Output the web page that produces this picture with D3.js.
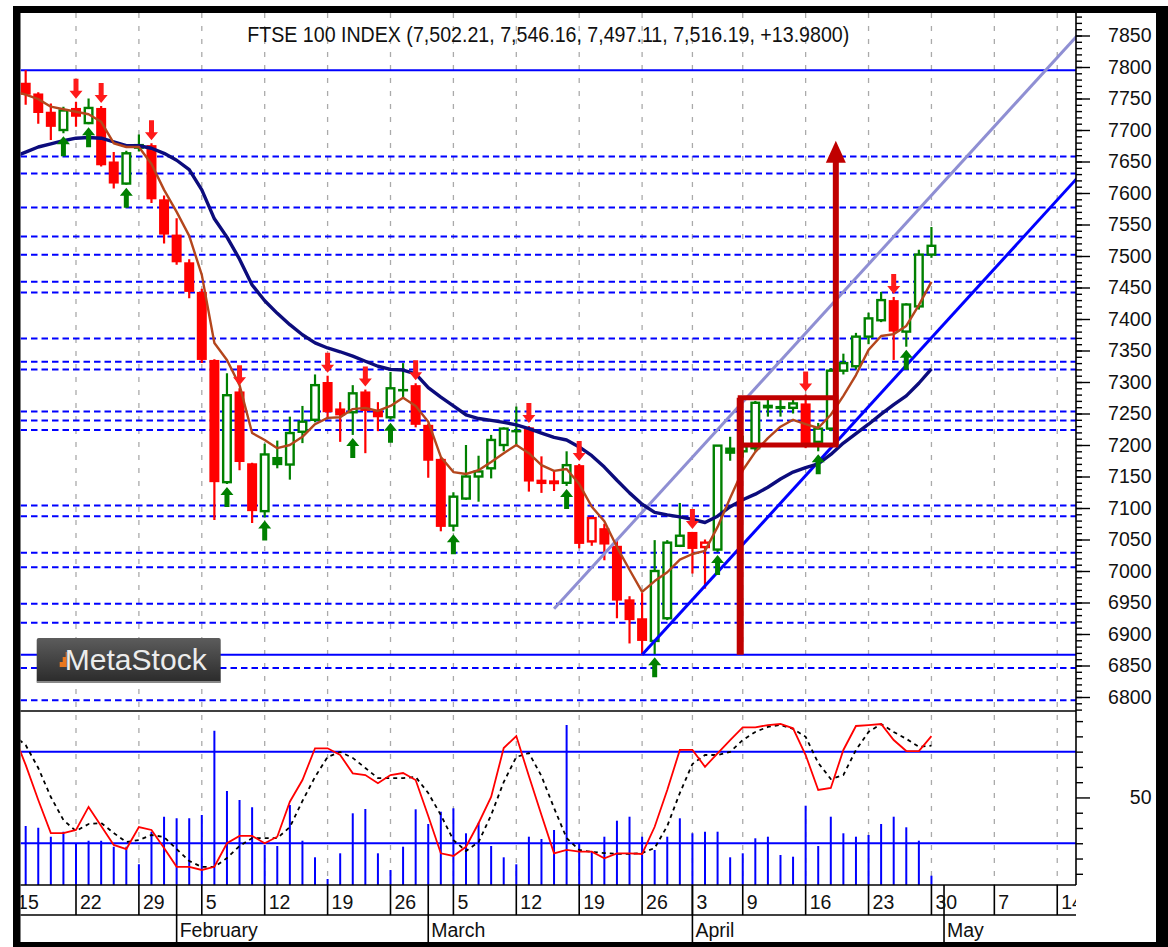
<!DOCTYPE html>
<html><head><meta charset="utf-8">
<script src="https://cdn.jsdelivr.net/npm/d3@7"></script>
<style>body{margin:0;background:#fff}svg{display:block}</style>
</head><body>
<svg id="c" width="1168" height="947"></svg>
<script>
// ---------------- DATA ----------------
const dates = ["2018-01-15","2018-01-16","2018-01-17","2018-01-18","2018-01-19","2018-01-22","2018-01-23","2018-01-24","2018-01-25","2018-01-26","2018-01-29","2018-01-30","2018-01-31",
"2018-02-01","2018-02-02","2018-02-05","2018-02-06","2018-02-07","2018-02-08","2018-02-09","2018-02-12","2018-02-13","2018-02-14","2018-02-15","2018-02-16","2018-02-19","2018-02-20","2018-02-21","2018-02-22","2018-02-23","2018-02-26","2018-02-27","2018-02-28",
"2018-03-01","2018-03-02","2018-03-05","2018-03-06","2018-03-07","2018-03-08","2018-03-09","2018-03-12","2018-03-13","2018-03-14","2018-03-15","2018-03-16","2018-03-19","2018-03-20","2018-03-21","2018-03-22","2018-03-23","2018-03-26","2018-03-27","2018-03-28","2018-03-29",
"2018-04-03","2018-04-04","2018-04-05","2018-04-06","2018-04-09","2018-04-10","2018-04-11","2018-04-12","2018-04-13","2018-04-16","2018-04-17","2018-04-18","2018-04-19","2018-04-20","2018-04-23","2018-04-24","2018-04-25","2018-04-26","2018-04-27","2018-04-30"];
const openP = [7778,7775,7758,7729,7700,7735,7711,7735,7650,7615,7672,7676,7590,7534,7490,7443,7335,7141,7285,7171,
7095,7168,7169,7221,7240,7300,7258,7252,7285,7255,7244,7285,7295,7232,7178,7072,7115,7150,7163,7200,
7220,7228,7145,7142,7140,7168,7084,7068,7040,6955,6925,6889,6925,7040,7062,7045,7034,7186,7190,7195,
7258,7257,7259,7266,7205,7226,7318,7325,7372,7398,7430,7380,7420,7502.21];
const highP = [7792,7795,7760,7742,7737,7745,7750,7738,7665,7667,7693,7679,7596,7560,7495,7448,7336,7314,7290,7172,
7202,7207,7245,7262,7312,7310,7268,7295,7288,7268,7316,7330,7298,7234,7180,7125,7200,7183,7216,7228,
7261,7230,7182,7160,7190,7170,7086,7075,7050,6960,6965,7049,7049,7108,7062,7050,7200,7213,7215,7270,
7272,7272,7275,7280,7235,7322,7345,7378,7410,7443,7435,7425,7510,7546.16];
const lowP = [7755,7740,7710,7684,7695,7705,7709,7642,7607,7613,7666,7584,7520,7486,7433,7330,7081,7138,7160,7076,
7085,7163,7145,7203,7236,7242,7205,7216,7187,7222,7240,7275,7228,7148,7063,7063,7113,7110,7147,7190,
7200,7126,7124,7127,7135,7036,7040,7017,6925,6885,6867,6868,6922,7038,6996,6972,7030,7175,7180,7190,
7245,7245,7250,7195,7190,7222,7312,7320,7360,7395,7335,7356,7415,7497.11];
const closeP = [7769,7756,7727,7705,7731,7721,7735,7644,7615,7663,7676,7590,7534,7490,7443,7335,7141,7279,7173,7095,
7185,7181,7219,7237,7295,7252,7247,7282,7254,7244,7290,7289,7232,7175,7070,7118,7150,7158,7208,7226,
7224,7142,7138,7140,7168,7043,7047,7042,6953,6922,6889,7000,7045,7056,7035,7038,7199,7196,7198,7267,
7264,7262,7266,7198,7226,7318,7330,7372,7401,7430,7380,7423,7502.21,7516.19];
const maShort = [7762,7756,7749,7737,7733,7729,7725,7713,7679,7673,7673,7646,7605,7570,7532,7470,7362,7335,7295,7219,
7208,7195,7200,7213,7233,7243,7244,7257,7259,7254,7262,7275,7262,7237,7181,7157,7154,7160,7173,7187,
7200,7187,7168,7159,7162,7138,7102,7079,7038,7002,6967,6984,6998,7018,7027,7032,7070,7116,7160,7189,
7211,7229,7240,7233,7227,7248,7278,7311,7351,7373,7376,7389,7422,7459];
const maLong = [7657,7665,7673,7678,7683,7687,7688,7687,7681,7675,7675,7671,7663,7652,7637,7605,7559,7530,7495,7454,
7429,7409,7391,7375,7362,7354,7348,7341,7333,7325,7320,7319,7313,7291,7276,7262,7248,7242,7239,7236,
7232,7226,7219,7212,7208,7197,7183,7165,7144,7124,7106,7093,7089,7086,7082,7077,7087,7102,7113,7122,
7133,7146,7157,7164,7170,7185,7203,7218,7233,7249,7264,7278,7298,7321];
const stochK = [92.2,71.3,48.3,26.7,26.7,28.7,43.8,31.3,18.9,16.2,30.6,28.7,16.9,4.6,4.6,2.5,4.6,20.0,24.8,24.8,
20.0,24.3,47.2,61.4,82.2,82.2,77.8,65.8,64.7,59.3,64.7,66.0,61.4,37.9,13.4,11.7,17.7,33.1,50.3,82.4,
90.2,64.0,38.5,13.4,15.6,14.5,14.5,10.2,13.4,13.4,13.0,30.8,54.9,81.1,81.1,70.1,78.9,87.6,95.9,95.9,
97.4,98.1,95.3,77.8,54.9,56.2,81.1,96.8,97.4,98.1,87.6,80.4,80.4,90.2];
const stochD = [90.9,84.3,69.3,50.3,35.2,28.0,32.6,33.3,26.7,20.8,22.1,25.4,24.1,16.2,8.4,4.5,4.5,10.3,18.2,23.4,
23.4,23.4,30.6,47.7,63.4,76.5,79.8,75.9,69.3,62.7,62.7,62.7,63.4,52.9,38.5,22.1,14.9,20.8,38.5,60.1,
76.5,79.1,64.0,43.1,23.4,15.6,14.3,13.6,13.0,13.0,13.6,16.9,31.3,52.9,71.9,77.8,77.8,79.8,87.6,92.9,
96.2,97.5,94.9,89.7,72.6,62.1,64.7,81.1,92.9,98.1,92.9,88.4,83.2,83.9];
const volume = [600,590,573,483,533,420,443,443,383,383,207,533,683,667,667,700,1543,940,850,777,
400,390,800,443,277,60,317,717,760,317,150,383,757,610,733,767,517,623,390,277,
207,483,460,550,1600,420,333,483,643,683,483,350,483,667,517,533,533,277,317,467,
483,300,283,793,390,683,517,483,500,610,683,577,443,93];
const sellSignals = [5,7,11,18,25,28,32,41,45,54,63,70];
const buySignals = [4,6,9,17,20,27,30,35,44,51,56,64,71];
const dashedLevels = [7658,7631,7577,7531,7502,7459,7442,7369,7332,7320,7253,7239,7224,7104,7087,7029,7006,6948,6918,6846,6795];
const solidLevels = [7795,6867];
const upperChannel = [[43,6940],[84.6,7850]];
const lowerChannel = [[50,6867],[84.6,7624]];
const boxIdx = [57.8,65.4];
const boxPrice = [7200,7275];
const flagPole = [[57.8,6867],[57.8,7275]];
const targetArrow = [[65.4,7200],[65.4,7683]];
const priceTicks = [6800,6850,6900,6950,7000,7050,7100,7150,7200,7250,7300,7350,7400,7450,7500,7550,7600,7650,7700,7750,7800,7850];
const stochLevels = [20,80];
const stochTicks = [0,10,20,30,40,50,60,70,80,90,100];
const stochLabels = [50];
const weekTickIndex = [0,5,10,15,20,25,30,35,40,45,50,54,58,63,68,73,78,83];
const weekTickLabels = ["15","22","29","5","12","19","26","5","12","19","26","3","9","16","23","30","7","14"];
const monthStartIndex = [13,33,54,74];
const monthLabels = ["February","March","April","May"];
const title = "FTSE 100 INDEX (7,502.21, 7,546.16, 7,497.11, 7,516.19, +13.9800)";

// ---------------- LAYOUT ----------------
const L=20.5, R=1076, T=13, PB=711, OB=885, DB=915, MB=942;
const FONT = "'Liberation Sans', Arial, sans-serif";
const svg = d3.select("#c");
const x = d3.scaleLinear().domain([0,83]).range([13.1, 13.1+83*12.58]);
const y = d3.scaleLinear().domain([6800,7850]).range([697,35.5]);
const yo = d3.scaleLinear().domain([0,100]).range([873.8,721.1]);
const yv = d3.scaleLinear().domain([0,1600]).range([OB,725]);

// frame
svg.append("rect").attr("x",0).attr("y",0).attr("width",1168).attr("height",947).attr("fill","#fff");
svg.append("rect").attr("x",13).attr("y",6).attr("width",1155).attr("height",941).attr("fill","#000");
svg.append("rect").attr("x",L).attr("y",T).attr("width",1156-L).attr("height",MB-T).attr("fill","#fff");

const defs = svg.append("defs");
defs.append("clipPath").attr("id","cp").append("rect").attr("x",L).attr("y",T).attr("width",R-L).attr("height",PB-T);
defs.append("clipPath").attr("id","co").append("rect").attr("x",L).attr("y",PB).attr("width",R-L).attr("height",OB-PB);
defs.append("clipPath").attr("id","call").append("rect").attr("x",L).attr("y",T).attr("width",R-L).attr("height",OB-T);
defs.append("clipPath").attr("id","cd").append("rect").attr("x",L).attr("y",OB).attr("width",R-L).attr("height",MB-OB);
const lg = defs.append("linearGradient").attr("id","lg").attr("x1",0).attr("y1",0).attr("x2",0).attr("y2",1);
lg.append("stop").attr("offset","0").attr("stop-color","#5c5c5c");
lg.append("stop").attr("offset","1").attr("stop-color","#2a2a2a");

// vertical grid
svg.append("g").attr("clip-path","url(#call)").selectAll("line").data(weekTickIndex).join("line")
  .attr("x1",d=>x(d)).attr("x2",d=>x(d)).attr("y1",T).attr("y2",OB)
  .attr("stroke","#aaaaaa").attr("stroke-width",1.3).attr("stroke-dasharray","5,8");

const gp = svg.append("g").attr("clip-path","url(#cp)");
gp.selectAll("line.dl").data(dashedLevels).join("line").attr("class","dl")
  .attr("x1",L).attr("x2",R).attr("y1",d=>y(d)).attr("y2",d=>y(d))
  .attr("stroke","#0000ff").attr("stroke-width",2).attr("stroke-dasharray","6.5,4");
gp.selectAll("line.sl").data(solidLevels).join("line").attr("class","sl")
  .attr("x1",L).attr("x2",R).attr("y1",d=>y(d)).attr("y2",d=>y(d))
  .attr("stroke","#0000ff").attr("stroke-width",2);

// candles
const green="#008000", red="#ff0000";
const bars = d3.range(dates.length);
const cg = gp.append("g");
bars.forEach(i=>{
  const o=openP[i], c=closeP[i], h=highP[i], l=lowP[i];
  const col = c>=o ? green : red;
  const filled = i>0 && c<closeP[i-1];
  const cx=x(i);
  cg.append("line").attr("x1",cx).attr("x2",cx).attr("y1",y(h)).attr("y2",y(l)).attr("stroke",col).attr("stroke-width",2.2);
  const top=y(Math.max(o,c)), bot=y(Math.min(o,c));
  if(filled){
    cg.append("rect").attr("x",cx-5).attr("width",10).attr("y",top).attr("height",Math.max(bot-top,2)).attr("fill",col);
  } else {
    cg.append("rect").attr("x",cx-3.8).attr("width",7.6).attr("y",top).attr("height",Math.max(bot-top,1.5))
      .attr("fill","#fff").attr("stroke",col).attr("stroke-width",2.4);
  }
});

// trend channel
const tl = d3.line().x(d=>x(d[0])).y(d=>y(d[1]));
gp.append("path").attr("d",tl(upperChannel)).attr("stroke","#8f8fd3").attr("stroke-width",3).attr("fill","none");
gp.append("path").attr("d",tl(lowerChannel)).attr("stroke","#0000ff").attr("stroke-width",3).attr("fill","none");

// moving averages
const ml = d3.line().x((d,i)=>x(i)).y(d=>y(d)).curve(d3.curveLinear);
gp.append("path").attr("d",ml(maLong)).attr("stroke","#0c0c7c").attr("stroke-width",3.4).attr("fill","none").attr("stroke-linejoin","round");
gp.append("path").attr("d",ml(maShort)).attr("stroke","#b4461c").attr("stroke-width",2.4).attr("fill","none").attr("stroke-linejoin","round");

// signal arrows
function downArrow(cx,tip){return `M${cx-2.5},${tip-20}L${cx+2.5},${tip-20}L${cx+2.5},${tip-8}L${cx+6.5},${tip-8}L${cx},${tip}L${cx-6.5},${tip-8}L${cx-2.5},${tip-8}Z`;}
function upArrow(cx,tip){return `M${cx-2.5},${tip+20}L${cx+2.5},${tip+20}L${cx+2.5},${tip+8}L${cx+6.5},${tip+8}L${cx},${tip}L${cx-6.5},${tip+8}L${cx-2.5},${tip+8}Z`;}
gp.selectAll("path.sell").data(sellSignals).join("path").attr("class","sell")
  .attr("d",i=>downArrow(x(i),y(highP[i])-3)).attr("fill","#ff1a1a");
gp.selectAll("path.buy").data(buySignals).join("path").attr("class","buy")
  .attr("d",i=>upArrow(x(i),y(lowP[i])+3)).attr("fill","#008000");

// box, flag pole and target
const dr="#c00000";
gp.append("rect").attr("x",x(boxIdx[0])).attr("y",y(boxPrice[1])).attr("width",x(boxIdx[1])-x(boxIdx[0])).attr("height",y(boxPrice[0])-y(boxPrice[1]))
  .attr("fill","none").attr("stroke",dr).attr("stroke-width",5);
gp.append("line").attr("x1",x(flagPole[0][0])).attr("x2",x(flagPole[1][0])).attr("y1",y(flagPole[0][1])).attr("y2",y(flagPole[1][1]))
  .attr("stroke",dr).attr("stroke-width",7);
const ax=x(targetArrow[1][0]), ay=y(targetArrow[1][1]);
gp.append("line").attr("x1",x(targetArrow[0][0])).attr("x2",ax).attr("y1",y(targetArrow[0][1])).attr("y2",ay+20)
  .attr("stroke",dr).attr("stroke-width",6);
gp.append("path").attr("d",`M${ax},${ay}L${ax+10},${ay+22}L${ax-10},${ay+22}Z`).attr("fill",dr);

// oscillator panel
const go = svg.append("g").attr("clip-path","url(#co)");
go.selectAll("line.v").data(bars).join("line").attr("class","v")
  .attr("x1",i=>x(i)).attr("x2",i=>x(i)).attr("y1",yv(0)).attr("y2",i=>yv(volume[i]))
  .attr("stroke","#0000ff").attr("stroke-width",2);
go.selectAll("line.lv").data(stochLevels).join("line").attr("class","lv")
  .attr("x1",L).attr("x2",R).attr("y1",d=>yo(d)).attr("y2",d=>yo(d)).attr("stroke","#0000ff").attr("stroke-width",2);
const sl = d3.line().x((d,i)=>x(i)).y(d=>yo(d));
go.append("path").attr("d",sl(stochD)).attr("stroke","#000").attr("stroke-width",1.8).attr("stroke-dasharray","4,4").attr("fill","none");
go.append("path").attr("d",sl(stochK)).attr("stroke","#ff0000").attr("stroke-width",1.8).attr("fill","none");

// panel separators / axes lines
const ax_ = svg.append("g").attr("stroke","#000").attr("stroke-width",1.6);
ax_.append("line").attr("x1",L).attr("x2",R).attr("y1",PB).attr("y2",PB);
ax_.append("line").attr("x1",L).attr("x2",R).attr("y1",OB).attr("y2",OB);
ax_.append("line").attr("x1",L).attr("x2",R).attr("y1",DB).attr("y2",DB);
ax_.append("line").attr("x1",R).attr("x2",R).attr("y1",T).attr("y2",OB);

// price axis (right)
const minorTicks = d3.range(6780, 7890, 10).filter(v=>y(v)>T && y(v)<PB);
const gMinor = svg.append("g").attr("transform",`translate(${R},0)`)
  .call(d3.axisRight(y).tickValues(minorTicks).tickSize(6).tickFormat("").tickSizeOuter(0));
gMinor.select(".domain").remove();
const gMajor = svg.append("g").attr("transform",`translate(${R},0)`)
  .call(d3.axisRight(y).tickValues(priceTicks).tickSize(14).tickFormat(d3.format("d")).tickSizeOuter(0));
gMajor.select(".domain").remove();
[gMinor,gMajor].forEach(g=>g.selectAll("line").attr("stroke","#000").attr("stroke-width",1.4));
gMajor.attr("font-family",FONT).attr("font-size",19.5);
gMajor.selectAll("text").attr("x",75.5).attr("text-anchor","end").attr("fill","#111");

// oscillator axis
const gOs = svg.append("g").attr("transform",`translate(${R},0)`)
  .call(d3.axisRight(yo).tickValues(stochTicks.filter(v=>!stochLabels.includes(v))).tickSize(7).tickFormat("").tickSizeOuter(0));
gOs.select(".domain").remove();
const gOl = svg.append("g").attr("transform",`translate(${R},0)`)
  .call(d3.axisRight(yo).tickValues(stochLabels).tickSize(14).tickFormat(d3.format("d")).tickSizeOuter(0));
gOl.select(".domain").remove();
[gOs,gOl].forEach(g=>g.selectAll("line").attr("stroke","#000").attr("stroke-width",1.4));
gOl.attr("font-family",FONT).attr("font-size",19.5);
gOl.selectAll("text").attr("x",75.5).attr("text-anchor","end").attr("fill","#111");

// date axis
const gd = svg.append("g").attr("clip-path","url(#cd)");
gd.selectAll("line.wt").data(weekTickIndex).join("line").attr("class","wt")
  .attr("x1",d=>x(d)).attr("x2",d=>x(d)).attr("y1",OB).attr("y2",DB).attr("stroke","#000").attr("stroke-width",1.6);
gd.selectAll("line.mt").data(monthStartIndex).join("line").attr("class","mt")
  .attr("x1",d=>x(d)).attr("x2",d=>x(d)).attr("y1",OB).attr("y2",MB).attr("stroke","#000").attr("stroke-width",1.6);
gd.selectAll("text.wl").data(weekTickIndex).join("text").attr("class","wl")
  .attr("x",d=>x(d)+4).attr("y",908.5).text((d,i)=>weekTickLabels[i])
  .attr("font-family",FONT).attr("font-size",19.5).attr("fill","#111");
gd.selectAll("text.ml").data(monthStartIndex).join("text").attr("class","ml")
  .attr("x",d=>x(d)+3).attr("y",936.5).text((d,i)=>monthLabels[i])
  .attr("font-family",FONT).attr("font-size",19.5).attr("fill","#111");

// title
svg.append("text").attr("x",(L+R)/2).attr("y",41.5).attr("text-anchor","middle")
  .attr("font-family","'Liberation Sans Narrow', 'Liberation Sans', Arial, sans-serif").attr("font-size",21.5)
  .attr("textLength",602).attr("lengthAdjust","spacingAndGlyphs").attr("fill","#111").text(title);

// logo
const logo = svg.append("g").attr("transform","translate(36.7,638)");
logo.append("rect").attr("width",184).attr("height",45).attr("rx",2).attr("fill","url(#lg)");
logo.append("rect").attr("y",43).attr("width",184).attr("height",2).attr("fill","#888");
[[20,10,5],[23.5,7,8],[27,4,11]].forEach(b=>{});
logo.append("path").attr("d","M20,29L23,29L23,24L26,24L26,19L29,19L29,14L30,14L30,29Z").attr("fill","#e8781e");
logo.append("text").attr("x",28).attr("y",31.5).attr("font-family",FONT).attr("font-size",29.5)
  .attr("fill","#ececec").attr("textLength",142).attr("lengthAdjust","spacingAndGlyphs").text("MetaStock");
</script>
</body></html>
